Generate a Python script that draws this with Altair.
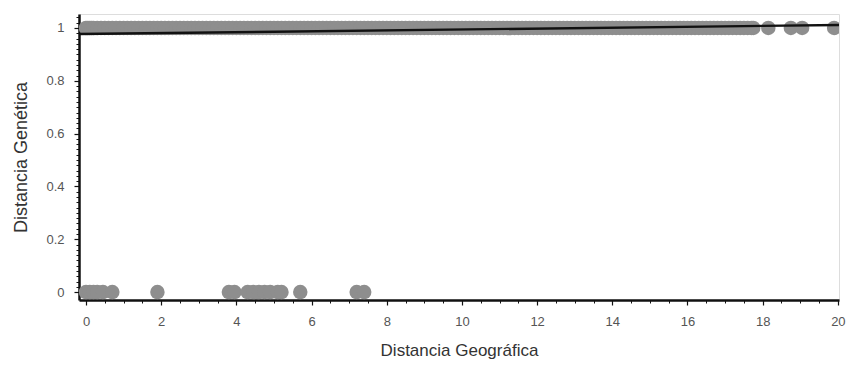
import altair as alt
import pandas as pd

# Genetic distance = 1 points (geographic distance values)
x_one = [0.0, 0.05, 0.1, 0.15, 0.2, 0.3, 0.4, 0.5, 0.6, 0.7, 0.8, 0.9, 1.0, 1.1, 1.2,
         1.3, 1.4, 1.5, 1.6, 1.7, 1.8, 1.9, 2.0, 2.1, 2.2, 2.3, 2.4, 2.5, 2.6, 2.7,
         2.8, 2.9, 3.0, 3.1, 3.2, 3.3, 3.4, 3.5, 3.6, 3.7, 3.8, 3.9, 4.0, 4.1, 4.2,
         4.3, 4.4, 4.5, 4.6, 4.7, 4.8, 4.9, 5.0, 5.1, 5.2, 5.3, 5.4, 5.5, 5.6, 5.7,
         5.8, 5.9, 6.0, 6.1, 6.2, 6.3, 6.4, 6.5, 6.6, 6.7, 6.8, 6.9, 7.0, 7.1, 7.2,
         7.3, 7.4, 7.5, 7.6, 7.7, 7.8, 7.9, 8.0, 8.1, 8.2, 8.3, 8.4, 8.5, 8.6, 8.7,
         8.8, 8.9, 9.0, 9.1, 9.2, 9.3, 9.4, 9.5, 9.6, 9.7, 9.8, 9.9, 10.0, 10.1,
         10.2, 10.3, 10.4, 10.5, 10.6, 10.7, 10.8, 10.9, 11.0, 11.1, 11.2, 11.3,
         11.4, 11.5, 11.6, 11.7, 11.8, 11.9, 12.0, 12.1, 12.2, 12.3, 12.4, 12.5,
         12.6, 12.7, 12.8, 12.9, 13.0, 13.1, 13.2, 13.3, 13.4, 13.5, 13.6, 13.7,
         13.8, 13.9, 14.0, 14.1, 14.2, 14.3, 14.4, 14.5, 14.6, 14.7, 14.8, 14.9,
         15.0, 15.1, 15.2, 15.3, 15.4, 15.5, 15.6, 15.7, 15.8, 15.9, 16.0, 16.1,
         16.2, 16.3, 16.4, 16.5, 16.6, 16.7, 16.8, 16.9, 17.0, 17.1, 17.2, 17.3,
         17.4, 17.5, 17.6, 17.7, 17.75, 18.15, 18.75, 19.05, 19.9, 20.15]
# Genetic distance = 0 points
x_zero = [0.0, 0.1, 0.2, 0.3, 0.45, 0.7, 1.9, 3.8, 3.95, 4.3, 4.45, 4.6, 4.75,
          4.9, 5.1, 5.2, 5.7, 7.2, 7.4]

# fitted regression line (endpoints)
fit_x = [-0.2, 20.4]
fit_y = [0.977, 1.012]

y_major = [0, 0.2, 0.4, 0.6, 0.8, 1]
x_major = [0, 2, 4, 6, 8, 10, 12, 14, 16, 18, 20]

pts = pd.DataFrame({
    "gx": x_one + x_zero,
    "gy": [1.0] * len(x_one) + [0.0] * len(x_zero),
})
fit = pd.DataFrame({"gx": fit_x, "gy": fit_y})

xdom = [-0.186, 20.03]
ydom = [-0.03, 1.053]

FONT = "Liberation Sans"

xscale = alt.Scale(domain=xdom, nice=False, zero=False)
yscale = alt.Scale(domain=ydom, nice=False, zero=False)

x_axis = alt.Axis(values=x_major, title="Distancia Geográfica", grid=False,
                  domainColor="#111", domainWidth=2.5, tickColor="#111",
                  tickSize=5, tickWidth=1.2, labelColor="#555", labelFontSize=13,
                  labelFont=FONT, labelPadding=10, titleFont=FONT, titleFontSize=17,
                  titleFontWeight="normal", titleColor="#333", titlePadding=14)
y_axis = alt.Axis(values=y_major, format="~g", title="Distancia Genética", grid=False,
                  domainColor="#111", domainWidth=2.5, tickColor="#111",
                  tickSize=5, tickWidth=1.2, labelColor="#555", labelFontSize=13,
                  labelFont=FONT, labelPadding=10, titleFont=FONT, titleFontSize=18,
                  titleFontWeight="normal", titleColor="#333", titlePadding=15)

points = alt.Chart(pts).mark_circle(size=210, color="#8e8e8e", opacity=1, clip=True).encode(
    x=alt.X("gx:Q", scale=xscale, axis=x_axis),
    y=alt.Y("gy:Q", scale=yscale, axis=y_axis),
)

x_minor = [v / 2 for v in range(0, 41)]
y_minor = [v / 50 for v in range(0, 53)]

minor_axes = alt.Chart(fit).mark_line(color="#111", strokeWidth=2.4, clip=True).encode(
    x=alt.X("gx:Q", scale=xscale,
            axis=alt.Axis(values=x_minor, labels=False, title=None, domain=False,
                          grid=False, tickColor="#111", tickSize=3, tickWidth=1,
                          orient="bottom")),
    y=alt.Y("gy:Q", scale=yscale,
            axis=alt.Axis(values=y_minor, labels=False, title=None, domain=False,
                          grid=False, tickColor="#111", tickSize=3, tickWidth=1,
                          orient="left")),
)

chart = alt.layer(points, minor_axes).resolve_axis(
    x="independent", y="independent"
).properties(
    width=760, height=286,
    autosize=alt.AutoSizeParams(type="none"),
    padding={"left": 71, "top": 6, "right": 7, "bottom": 59},
).configure_view(stroke=None).configure(background="white")

chart.save("out.html", embed_options={"renderer": "svg", "actions": False})
